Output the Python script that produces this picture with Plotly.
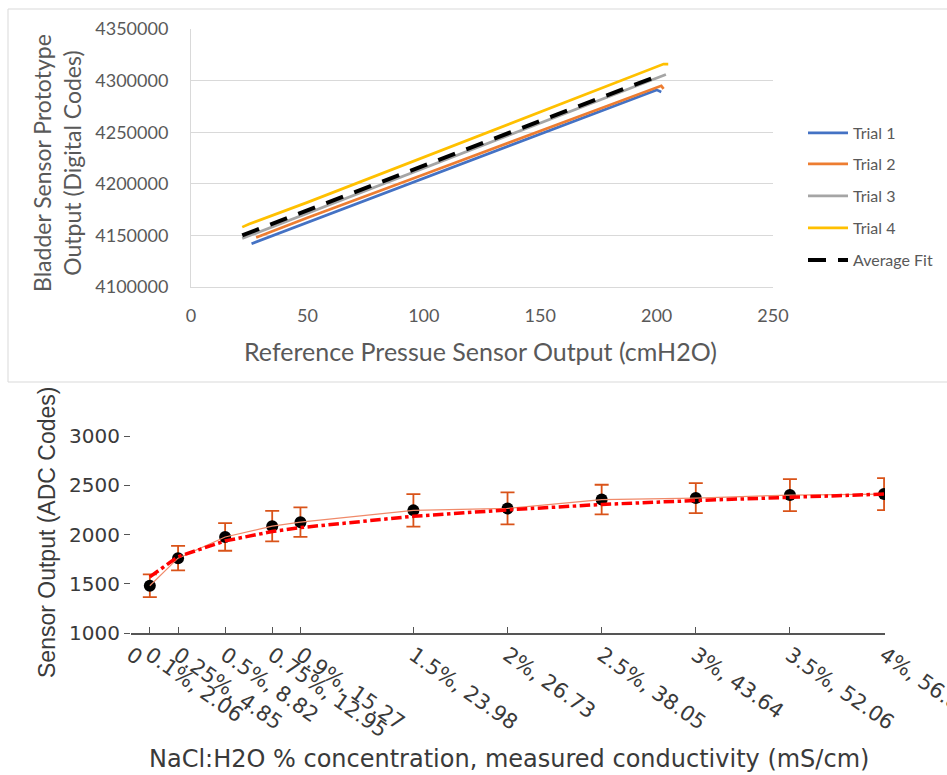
import plotly.graph_objects as go

W, H = 947, 775

# ---------------- Top chart data ----------------
trial1_x = [26, 50, 100, 150, 200, 202]
trial1_y = [4142000, 4162500, 4205000, 4248000, 4291000, 4289000]
trial2_x = [28, 50, 100, 150, 200, 202, 203]
trial2_y = [4148000, 4167000, 4209000, 4251000, 4293500, 4295000, 4292000]
trial3_x = [22, 50, 100, 150, 200, 204]
trial3_y = [4147000, 4171500, 4215000, 4259000, 4302500, 4306000]
trial4_x = [22, 25, 50, 100, 150, 200, 203, 205]
trial4_y = [4158000, 4161000, 4182000, 4226000, 4270000, 4313500, 4316000, 4316000]
fit_x = [22, 50, 100, 150, 200]
fit_y = [4150000, 4174000, 4217500, 4261000, 4304000]

top_names = ["Trial 1", "Trial 2", "Trial 3", "Trial 4", "Average Fit"]
top_colors = ["#4472c4", "#ed7d31", "#a5a5a5", "#ffc000", "#000000"]

# ---------------- Bottom chart data ----------------
conc = [0.1, 0.25, 0.5, 0.75, 0.9, 1.5, 2, 2.5, 3, 3.5, 4]
sensor_mean = [1480, 1760, 1975, 2085, 2125, 2245, 2265, 2355, 2370, 2400, 2410]
sensor_err = [115, 125, 140, 155, 150, 165, 162, 150, 152, 162, 162]
fit_vals = [1570, 1775, 1935, 2030, 2070, 2185, 2250, 2305, 2345, 2380, 2410]
tick_vals = [0, 0.1, 0.25, 0.5, 0.75, 0.9, 1.5, 2, 2.5, 3, 3.5, 4]
tick_text = ["0", "0.1%, 2.06", "0.25%, 4.85", "0.5%, 8.82", "0.75%, 12.95", "0.9%, 15.27",
             "1.5%, 23.98", "2%, 26.73", "2.5%, 38.05", "3%, 43.64", "3.5%, 52.06", "4%, 56.86"]

fig = go.Figure()

top_series = [(trial1_x, trial1_y), (trial2_x, trial2_y), (trial3_x, trial3_y),
              (trial4_x, trial4_y), (fit_x, fit_y)]
legend_ids = ["legend", "legend2", "legend3", "legend4", "legend5"]
for i, ((xs, ys), name, col) in enumerate(zip(top_series, top_names, top_colors)):
    if name == "Average Fit":
        line = dict(color=col, width=4, dash="18px,12px")
    else:
        line = dict(color=col, width=2.7)
    fig.add_trace(go.Scatter(x=xs, y=ys, mode="lines", name=name, line=line,
                             xaxis="x", yaxis="y", legend=legend_ids[i]))

# bottom chart
fig.add_trace(go.Scatter(x=conc, y=sensor_mean, mode="markers", showlegend=False,
                         marker=dict(color="#000000", size=12),
                         error_y=dict(type="data", array=sensor_err, color="#d95319",
                                      thickness=1.8, width=7),
                         xaxis="x2", yaxis="y2"))
fig.add_trace(go.Scatter(x=conc, y=sensor_mean, mode="lines", showlegend=False,
                         line=dict(color="#f08a6a", width=1.2),
                         xaxis="x2", yaxis="y2"))
fig.add_trace(go.Scatter(x=conc, y=fit_vals, mode="lines", showlegend=False,
                         line=dict(color="#ff0000", width=3.5, dash="dashdot"),
                         xaxis="x2", yaxis="y2"))

topfont = dict(family="Lato", size=18, color="#595959")
botfont = dict(family="DejaVu Sans", size=20, color="#3a3a3a")

legend_y = [133, 164, 196, 228, 260]
legend_cfg = {}
for lid, ly in zip(legend_ids, legend_y):
    legend_cfg[lid] = dict(x=803 / W, y=1 - ly / H, xanchor="left", yanchor="middle",
                           bgcolor="rgba(0,0,0,0)", itemwidth=40,
                           font=dict(family="Lato", size=16, color="#595959"))

fig.update_layout(
    width=W, height=H,
    margin=dict(l=0, r=0, t=0, b=0),
    paper_bgcolor="white", plot_bgcolor="white",
    xaxis=dict(domain=[191 / W, 773 / W], range=[0, 250], dtick=50, tickfont=topfont,
               showgrid=False, showline=True, linecolor="#d9d9d9", zeroline=False,
               ticks="", ticklabelstandoff=12, automargin=False, anchor="y"),
    yaxis=dict(domain=[1 - 287 / H, 1 - 29 / H], range=[4100000, 4350000], dtick=50000,
               tickformat="d", tickfont=topfont, showgrid=True, gridcolor="#d9d9d9",
               showline=True, linecolor="#d9d9d9", zeroline=False, ticks="",
               ticklabelstandoff=18, automargin=False, anchor="x"),
    xaxis2=dict(domain=[131 / W, 885 / W], range=[0, 4.005], tickvals=tick_vals,
                ticktext=tick_text, tickangle=35, ticklabeloverflow="allow",
                tickfont=dict(family="DejaVu Sans", size=21, color="#3a3a3a"),
                showgrid=False, showline=True, linecolor="#555555", linewidth=1.5,
                ticks="inside", ticklen=6, tickcolor="#555555", zeroline=False,
                automargin=False, anchor="y2"),
    yaxis2=dict(domain=[1 - 633 / H, 1 - 436 / H], range=[1000, 3000], dtick=500,
                tickfont=botfont, showgrid=False, showline=False, zeroline=False,
                ticks="outside", ticklen=6, tickcolor="#555555",
                automargin=False, anchor="x2"),
    **legend_cfg,
    shapes=[dict(type="rect", xref="paper", yref="paper", x0=8 / W, x1=952 / W,
                 y0=1 - 382 / H, y1=1 - 9 / H, line=dict(color="#d9d9d9", width=1))],
    annotations=[
        dict(text="Bladder Sensor Prototype<br>Output (Digital Codes)", textangle=-90,
             x=57 / W, y=1 - 163 / H, xref="paper", yref="paper", showarrow=False,
             xanchor="center", yanchor="middle",
             font=dict(family="Lato", size=23, color="#595959")),
        dict(text="Reference Pressue Sensor Output (cmH2O)",
             x=481 / W, y=1 - 351 / H, xref="paper", yref="paper", showarrow=False,
             xanchor="center", yanchor="middle",
             font=dict(family="Lato", size=25, color="#595959")),
        dict(text="Sensor Output (ADC Codes)", textangle=-90,
             x=47 / W, y=1 - 533 / H, xref="paper", yref="paper", showarrow=False,
             xanchor="center", yanchor="middle",
             font=dict(family="Liberation Sans", size=23, color="#3a3a3a")),
        dict(text="NaCl:H2O % concentration, measured conductivity (mS/cm)",
             x=509 / W, y=1 - 759 / H, xref="paper", yref="paper", showarrow=False,
             xanchor="center", yanchor="middle",
             font=dict(family="DejaVu Sans", size=24, color="#3a3a3a")),
    ],
)

fig.write_html("out.html", config={"displayModeBar": False},
               post_script="document.body.style.margin='0';")
